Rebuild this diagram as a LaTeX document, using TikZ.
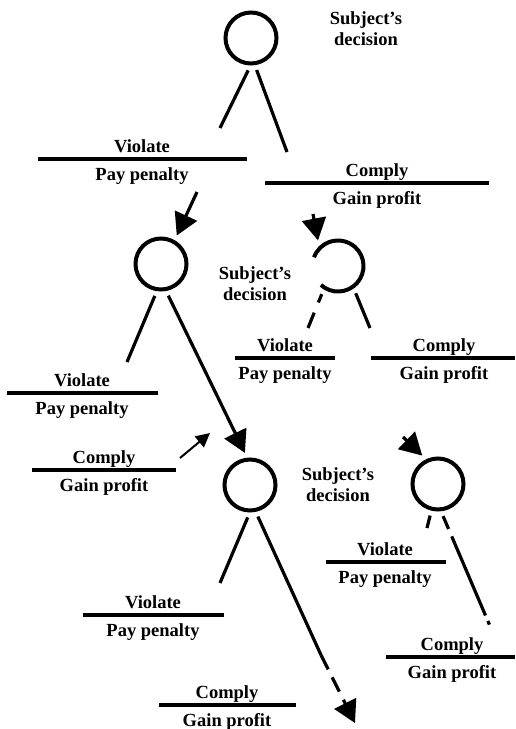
\documentclass[tikz,border=0pt]{standalone}
\usepackage{fontspec}
\setmainfont{Liberation Serif}
\usetikzlibrary{arrows.meta}

\begin{document}
\begin{tikzpicture}[x=1pt, y=-1pt,
  decision/.style={circle, draw, line width=4pt, minimum size=51pt, inner sep=0pt, outer sep=7pt},
  bar/.style={line width=4pt},
  leg/.style={line width=3.2pt},
  lbl/.style={font=\fontsize{18.5}{21}\selectfont\bfseries, inner sep=0pt, anchor=base},
  note/.style={font=\fontsize{18.5}{21}\selectfont\bfseries, align=center, inner sep=0pt},
  big/.style={leg, -{Triangle[length=22pt, width=24pt]}}]
  \useasboundingbox (0,0) rectangle (515,729);

  % decision nodes
  \node[decision] (d1) at (251,38) {};
  \node[decision] (d2) at (161,264) {};
  \node[decision, draw=none] (d3) at (338,266) {};
  \node[decision] (d4) at (250,485) {};
  \node[decision] (d5) at (438,484) {};
  \draw[line width=4pt] ([shift={(132:25.5)}]d3.center) arc[start angle=132, end angle=-160, radius=25.5];

  \node[note] (s1) at (366,29) {Subject’s\\decision};
  \node[note] (s2) at (255,284) {Subject’s\\decision};
  \node[note] (s3) at (338,485) {Subject’s\\decision};

  % outcomes
  \coordinate (v1l) at (38,159);   \coordinate (v1r) at (247,159);
  \coordinate (c1l) at (265,183);  \coordinate (c1r) at (489,183);
  \coordinate (v2l) at (7,393);    \coordinate (v2r) at (158,393);
  \coordinate (v3l) at (235,358);  \coordinate (v3r) at (335,358);
  \coordinate (c3l) at (371,358);  \coordinate (c3r) at (515,358);
  \coordinate (c2l) at (32,470);   \coordinate (c2r) at (176,470);
  \coordinate (v4l) at (83,615);   \coordinate (v4r) at (224,615);
  \coordinate (c4l) at (159,705);  \coordinate (c4r) at (296,705);
  \coordinate (v5l) at (326,562);  \coordinate (v5r) at (446,562);
  \coordinate (c5l) at (386,657);  \coordinate (c5r) at (515,657);
  \foreach \o in {v1,c1,v2,v3,c3,c2,v4,c4,v5,c5}
    \draw[bar] (\o l) -- (\o r);

  \node[lbl] (v1a) at (142,152) {Violate};  \node[lbl] (v1b) at (142,180) {Pay penalty};
  \node[lbl] (c1a) at (377,176) {Comply};   \node[lbl] (c1b) at (377,204) {Gain profit};
  \node[lbl] (v2a) at (82,386) {Violate};   \node[lbl] (v2b) at (82,414) {Pay penalty};
  \node[lbl] (v3a) at (285,351) {Violate};  \node[lbl] (v3b) at (285,379) {Pay penalty};
  \node[lbl] (c3a) at (444,351) {Comply};   \node[lbl] (c3b) at (444,379) {Gain profit};
  \node[lbl] (c2a) at (104,463) {Comply};   \node[lbl] (c2b) at (104,491) {Gain profit};
  \node[lbl] (v4a) at (153,608) {Violate};  \node[lbl] (v4b) at (153,636) {Pay penalty};
  \node[lbl] (c4a) at (227,698) {Comply};   \node[lbl] (c4b) at (227,726) {Gain profit};
  \node[lbl] (v5a) at (385,555) {Violate};  \node[lbl] (v5b) at (385,583) {Pay penalty};
  \node[lbl] (c5a) at (452,650) {Comply};   \node[lbl] (c5b) at (452,678) {Gain profit};

  % legs
  \coordinate (e1l) at (220,128);  \coordinate (e1r) at (287,152);
  \coordinate (e2l) at (127,362);
  \coordinate (e3l) at (308,328);  \coordinate (e3r) at (370,328);
  \coordinate (e4l) at (220,583);  \coordinate (e4m) at (321,655);  \coordinate (e4r) at (355,723);
  \coordinate (e5l) at (427,528);  \coordinate (e5r) at (490,626);
  \draw[leg] (d1.265) -- (e1l);
  \draw[leg] (d1.280) -- (e1r);
  \draw[leg] (d2.259) -- (e2l);
  \draw[big] (d2.283) -- (d4.99);
  \draw[leg, dash pattern=on 9pt off 11pt on 30pt] (d3.240) -- (e3l);
  \draw[leg] (d3.303) -- (e3r);
  \draw[leg] (d4.266) -- (e4l);
  \draw[leg] (d4.284) -- (e4m);
  \draw[big, dash pattern=on 16pt off 9pt] (e4m) -- (e4r);
  \draw[leg] (d5.256) -- (e5l);
  \draw[leg, dash pattern=on 14pt off 8pt on 86pt off 6pt on 4pt off 20pt] (d5.279) -- (e5r);

  % incoming arrows
  \coordinate (a1) at (197,192);
  \coordinate (a2) at (313,214);
  \coordinate (a3) at (180,458);
  \coordinate (a4) at (210,433);
  \coordinate (a5) at (403,437);
  \draw[big] (a1) -- (d2.61);
  \draw[big] (a2) -- (d3.128);
  \draw[big] (a5) -- (d5.119);
  \draw[line width=2pt, -{Triangle[length=14pt, width=14pt]}] (a3) -- (a4);
\end{tikzpicture}
\end{document}
